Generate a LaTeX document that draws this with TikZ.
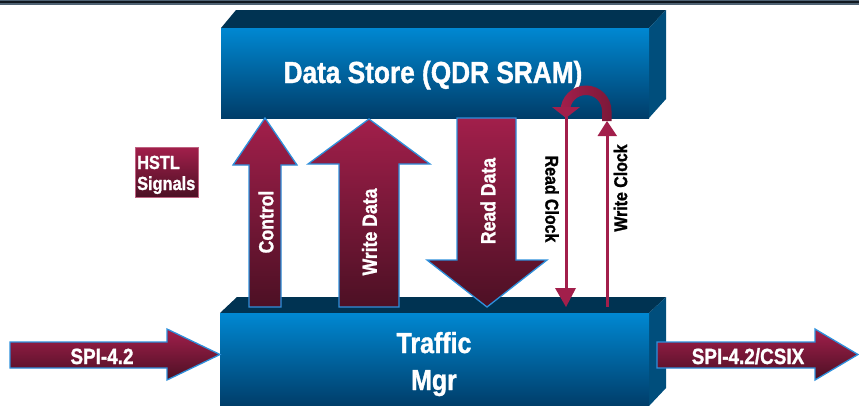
\documentclass[tikz,border=0pt]{standalone}
\usepackage{fontspec}
\setmainfont{Liberation Sans}[FakeStretch=0.86,BoldFeatures={FakeBold=1.2}]
\definecolor{boxtop}{HTML}{0088D2}
\definecolor{boxbot}{HTML}{003D69}
\definecolor{lid}{HTML}{003352}
\definecolor{side}{HTML}{004E7C}
\definecolor{wine}{HTML}{A21F4B}
\definecolor{winemid}{HTML}{7B1839}
\definecolor{winedark}{HTML}{4C1024}
\definecolor{rim}{HTML}{2E90DC}
\definecolor{bandedge}{HTML}{4F6273}
\definecolor{bandcore}{HTML}{101820}
\tikzset{
  frontface/.style={top color=boxtop,bottom color=boxbot},
  lidface/.style={fill=lid},
  sideface/.style={fill=side},
  blockarrow/.style={draw=rim,line width=1.3pt,line join=miter,top color=wine,bottom color=winedark},
  wire/.style={draw=wine,line width=3pt},
  tiphead/.style={fill=wine},
  boxlabel/.style={text=white,font=\bfseries\fontsize{29}{33}\selectfont,inner sep=0pt},
  arrowlabel/.style={text=white,font=\bfseries\fontsize{20.5}{24}\selectfont,inner sep=0pt},
  clocklabel/.style={text=black,font=\bfseries\fontsize{18.5}{22}\selectfont,inner sep=0pt},
  portlabel/.style={text=white,font=\bfseries\fontsize{22}{26}\selectfont,inner sep=0pt},
  taglabel/.style={text=white,font=\bfseries\fontsize{19}{23}\selectfont,inner sep=0pt,anchor=base west},
}
\begin{document}
\begin{tikzpicture}[x=1pt,y=-1pt]
\useasboundingbox (0,0) rectangle (859,405);

% rule across the top
\fill[bandedge] (0,0) rectangle (859,4.5);
\fill[bandcore] (0,1.3) rectangle (859,3.4);

% Data Store block
\fill[lidface] (221,28) -- (236,10) -- (666,10) -- (649,28) -- cycle;
\fill[sideface] (649,28) -- (666,10) -- (666,99) -- (649,118) -- cycle;
\shade[frontface] (221,28) rectangle (649,118);
\node[boxlabel,font=\bfseries\fontsize{30.5}{34}\selectfont,anchor=base] (store) at (433,83) {Data Store (QDR SRAM)};

% Traffic manager block
\fill[lidface] (220,313) -- (237,297) -- (666,297) -- (649,313) -- cycle;
\fill[sideface] (649,313) -- (666,297) -- (666,388) -- (649,406) -- cycle;
\shade[frontface] (220,313) rectangle (649,406);
\node[boxlabel,anchor=base] (tm1) at (434,353) {Traffic};
\node[boxlabel,anchor=base] (tm2) at (434,390) {Mgr};

% HSTL tag
\shade[top color=wine,bottom color=winedark,draw=wine!70!white,line width=0.6pt] (135,147) rectangle (198,197);
\node[taglabel] (hstl1) at (137,169) {HSTL};
\node[taglabel] (hstl2) at (137,190) {Signals};

% Control (up)
\path[blockarrow] (249,307) -- (249,165) -- (233,165) -- (265,118) -- (297,165) -- (281,165) -- (281,307) -- cycle;
\node[arrowlabel,rotate=90] (ctl) at (266,222) {Control};

% Write Data (up)
\path[blockarrow] (339,307) -- (339,164) -- (308,164) -- (369,119) -- (430,164) -- (399,164) -- (399,307) -- cycle;
\node[arrowlabel,rotate=90] (wd) at (369.5,232) {Write Data};

% Read Data (down)
\path[blockarrow] (457,118) -- (516,118) -- (516,260) -- (547,260) -- (487,307) -- (427,260) -- (457,260) -- cycle;
\node[arrowlabel,rotate=90] (rd) at (488,201) {Read Data};

% Read Clock (down)
\draw[wire] (566,117) -- (566,290);
\fill[tiphead] (555,288) -- (576,288) -- (566,307) -- cycle;
\node[clocklabel,rotate=-90] (rc) at (552,199) {Read Clock};

% Write Clock (up)
\draw[wire] (607,307) -- (607,134);
\fill[tiphead] (597.5,136) -- (617,136) -- (607,121) -- cycle;
\node[clocklabel,rotate=90] (wc) at (620.5,188) {Write Clock};

% loop from write clock back to read clock
\shade[left color=wine,right color=winemid] (611.5,121) -- (611.5,111) arc[start angle=0,end angle=-180,radius=25.5] -- (560.5,108) -- (570,108) -- (570,111) arc[start angle=180,end angle=360,radius=16] -- (602,121) -- cycle;
\fill[tiphead] (552,107) -- (580,107) -- (566,118) -- cycle;

% SPI-4.2 in
\path[blockarrow] (10,342) -- (167,342) -- (167,329) -- (220,354.5) -- (167,380) -- (167,368) -- (10,368) -- cycle;
\node[portlabel,anchor=base] (spiin) at (102,364) {SPI-4.2};

% SPI-4.2/CSIX out
\path[blockarrow] (657,342) -- (815,342) -- (815,329) -- (858,354.5) -- (815,380) -- (815,368) -- (657,368) -- cycle;
\node[portlabel,anchor=base] (spiout) at (748,364) {SPI-4.2/CSIX};
\end{tikzpicture}
\end{document}
